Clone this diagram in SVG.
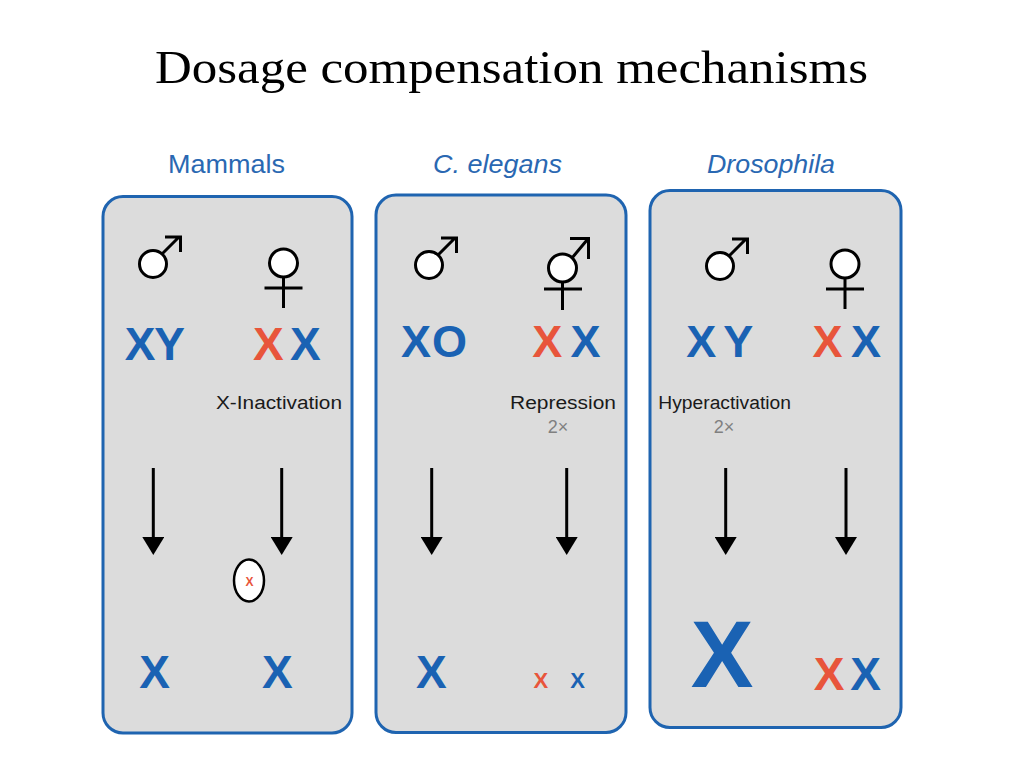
<svg xmlns="http://www.w3.org/2000/svg" width="1024" height="768" viewBox="0 0 1024 768">
<defs>
<style>
.title{font-family:"Liberation Serif","Times New Roman",serif;font-size:46px;fill:#000}
.sp{font-family:"Liberation Sans",Arial,sans-serif;font-size:25px;fill:#2a68b2}
.it{font-style:italic}
.panel{fill:#dcdcdc;stroke:#1f64b0;stroke-width:3}
.chr{font-family:"Liberation Sans",Arial,sans-serif;font-weight:bold;text-anchor:middle}
.b{fill:#1a62b3}
.r{fill:#e8553b}
.lbl{font-family:"Liberation Sans",Arial,sans-serif;font-size:18px;fill:#1a1a1a}
.two{font-family:"Liberation Sans",Arial,sans-serif;font-size:18px;fill:#808080;text-anchor:middle}
.sym{fill:none;stroke:#000;stroke-width:3}
.symc{fill:#fff;stroke:#000;stroke-width:3}
.arr{stroke:#000;stroke-width:3;fill:none}
</style>
<marker id="ah" markerUnits="userSpaceOnUse" markerWidth="18" markerHeight="22" viewBox="0 0 18 22" refX="0" refY="11" orient="auto">
<path d="M0,0 L18,11 L0,22 z" fill="#000"/>
</marker>
<g id="male-sym">
<circle cx="0" cy="0" r="13.5" class="symc"/>
<path class="sym" d="M9,-10 L26,-27 M12,-27 H27.5 V-12"/>
</g>
<g id="female-sym">
<line class="sym" x1="0" y1="13" x2="0" y2="45"/>
<line class="sym" x1="-19" y1="25" x2="19" y2="25"/>
<circle cx="0" cy="0" r="14" class="symc"/>
</g>
</defs>
<rect width="1024" height="768" fill="#fff"/>

<text id="title" class="title" x="155" y="83" textLength="713" lengthAdjust="spacingAndGlyphs">Dosage compensation mechanisms</text>

<g id="panel-mammals">
<text class="sp" x="168" y="173" textLength="117" lengthAdjust="spacingAndGlyphs">Mammals</text>
<rect class="panel" x="103" y="196.5" width="249" height="536.5" rx="20"/>
<use href="#male-sym" x="153" y="264"/>
<use href="#female-sym" x="283.5" y="263"/>
<text class="chr b" font-size="46" x="140" y="360">X</text>
<text class="chr b" font-size="46" x="169.5" y="360">Y</text>
<text class="chr r" font-size="46" x="268.3" y="360">X</text>
<text class="chr b" font-size="46" x="305.3" y="360">X</text>
<text class="lbl" x="216" y="409" textLength="126" lengthAdjust="spacingAndGlyphs">X-Inactivation</text>
<ellipse cx="249" cy="580.5" rx="15" ry="21" fill="#fff" stroke="#000" stroke-width="2.5"/>
<text class="chr r" font-size="12" x="249.5" y="585.5">X</text>
<text class="chr b" font-size="46" x="154.5" y="688">X</text>
<text class="chr b" font-size="46" x="277.3" y="688">X</text>
</g>

<g id="panel-celegans">
<text class="sp it" x="433" y="173" textLength="129" lengthAdjust="spacingAndGlyphs">C. elegans</text>
<rect class="panel" x="376" y="195" width="250" height="537.5" rx="20"/>
<use href="#male-sym" x="429" y="265"/>
<g id="herm-sym">
<line class="sym" x1="562.5" y1="281" x2="562.5" y2="310"/>
<line class="sym" x1="544" y1="289" x2="582" y2="289"/>
<path class="sym" d="M572,258 L587,240 M570,238.5 H588.5 V259"/>
<circle cx="562.5" cy="268" r="14" class="symc"/>
</g>
<text class="chr b" font-size="45" x="416" y="357">X</text>
<text class="chr b" font-size="45" x="449.5" y="357">O</text>
<text class="chr r" font-size="45" x="547.2" y="357">X</text>
<text class="chr b" font-size="45" x="585.5" y="357">X</text>
<text class="lbl" x="510" y="409" textLength="106" lengthAdjust="spacingAndGlyphs">Repression</text>
<text class="two" x="558" y="433">2×</text>
<text class="chr b" font-size="46" x="431.3" y="688">X</text>
<text class="chr r" font-size="22" x="540.8" y="688">X</text>
<text class="chr b" font-size="22" x="577.5" y="688">X</text>
</g>

<g id="panel-drosophila">
<text class="sp it" x="707" y="173" textLength="128" lengthAdjust="spacingAndGlyphs">Drosophila</text>
<rect class="panel" x="650" y="190.5" width="251" height="537" rx="20"/>
<use href="#male-sym" x="720" y="266"/>
<use href="#female-sym" x="845" y="264"/>
<text class="chr b" font-size="45" x="701.3" y="357">X</text>
<text class="chr b" font-size="45" x="738.3" y="357">Y</text>
<text class="chr r" font-size="45" x="827.5" y="357">X</text>
<text class="chr b" font-size="45" x="866" y="357">X</text>
<text class="lbl" x="658.3" y="409" textLength="132.7" lengthAdjust="spacingAndGlyphs">Hyperactivation</text>
<text class="two" x="724" y="433">2×</text>
<text class="chr b" font-size="94" x="722" y="687">X</text>
<text class="chr r" font-size="46" x="829" y="690">X</text>
<text class="chr b" font-size="46" x="865.5" y="690">X</text>
</g>

<g id="connectors">
<line class="arr" x1="153.3" y1="468" x2="153.3" y2="537" marker-end="url(#ah)"/>
<line class="arr" x1="281.7" y1="468" x2="281.7" y2="537" marker-end="url(#ah)"/>
<line class="arr" x1="431.7" y1="468" x2="431.7" y2="537" marker-end="url(#ah)"/>
<line class="arr" x1="566.7" y1="468" x2="566.7" y2="537" marker-end="url(#ah)"/>
<line class="arr" x1="725.7" y1="468" x2="725.7" y2="537" marker-end="url(#ah)"/>
<line class="arr" x1="846" y1="468" x2="846" y2="537" marker-end="url(#ah)"/>
</g>
</svg>
